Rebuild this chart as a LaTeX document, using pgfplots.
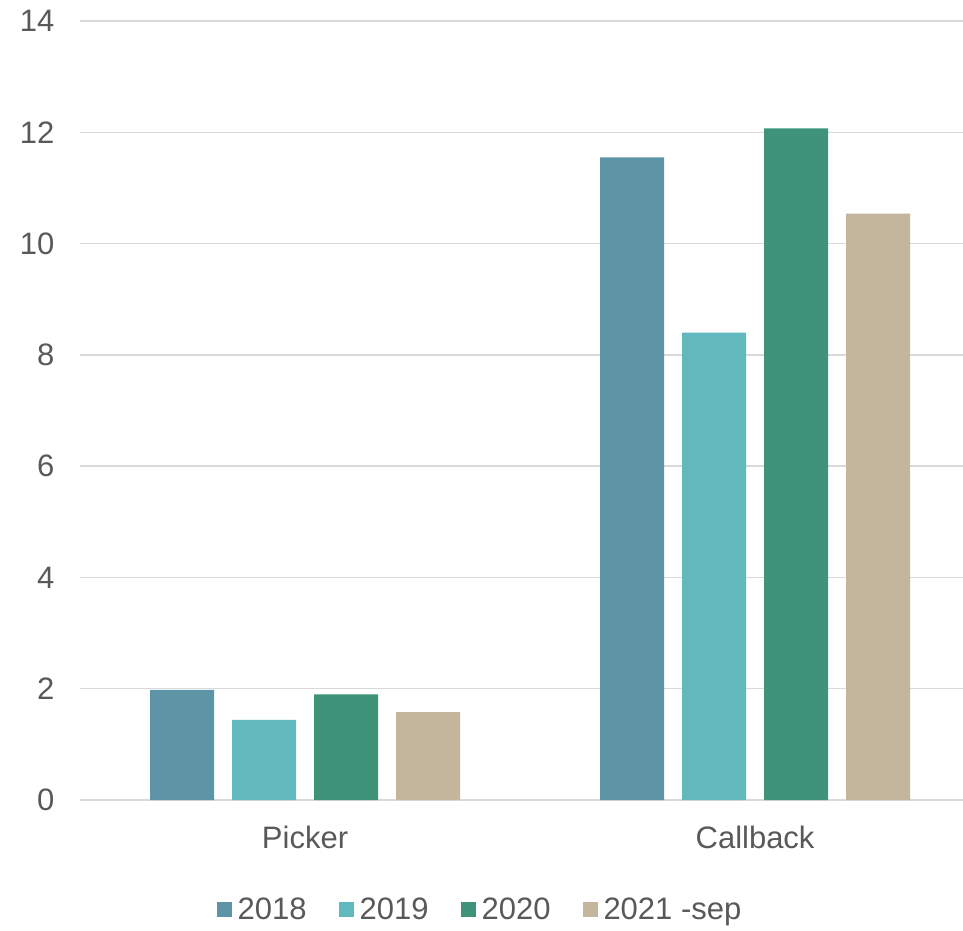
\documentclass[border=0pt]{standalone}
\usepackage{pgfplots}
\pgfplotsset{compat=1.18}
\usepackage{fontspec}
\setmainfont{Liberation Sans}

\definecolor{cA}{HTML}{5E95A6}
\definecolor{cB}{HTML}{62B9BD}
\definecolor{cC}{HTML}{3E9379}
\definecolor{cD}{HTML}{C4B69D}
\definecolor{txt}{HTML}{595959}
\definecolor{gridc}{HTML}{D9D9D9}

\begin{document}
\begin{tikzpicture}
  \begin{axis}[name=ax,
    scale only axis, width=883pt, height=779pt,
    xmin=-0.5, xmax=1.462, ymin=0, ymax=14,
    ytick={0,2,...,14},
    xtick={0,1}, xticklabels={Picker,Callback},
    major tick length=0pt,
    axis line style={draw=none},
    ymajorgrids, xmajorgrids=false,
    grid style={draw=gridc, line width=1.5pt},
    font=\fontsize{31}{37}\selectfont, text=txt,
    /pgf/number format/assume math mode=true,
    yticklabel style={xshift=-22pt},
    xticklabel style={yshift=-22pt},
    ybar, bar width=64pt,
    legend columns=4,
    legend style={draw=none, at={(0.453,-0.141)}, anchor=center,
      font=\fontsize{31}{37}\selectfont, text=txt,
      /tikz/every odd column/.append style={column sep=4pt},
      /tikz/every even column/.append style={column sep=30pt}},
    legend image code/.code={\fill[#1] (0pt,-7.5pt) rectangle (15pt,7.5pt);},
  ]
    \draw[gridc, line width=1.5pt] (rel axis cs:0,0) -- (rel axis cs:1,0);
    \addplot[fill=cA, draw=none, bar shift=-123pt] coordinates {(0,1.98) (1,11.55)};
    \addplot[fill=cB, draw=none, bar shift=-41pt] coordinates {(0,1.44) (1,8.40)};
    \addplot[fill=cC, draw=none, bar shift=41pt] coordinates {(0,1.90) (1,12.07)};
    \addplot[fill=cD, draw=none, bar shift=123pt] coordinates {(0,1.58) (1,10.54)};
    \legend{2018,2019,2020,2021 -sep}
  \end{axis}
  \pgfresetboundingbox
  \path[use as bounding box] ([xshift=-80pt,yshift=-130pt]ax.south west) rectangle ([yshift=21pt]ax.north east);
\end{tikzpicture}
\end{document}
